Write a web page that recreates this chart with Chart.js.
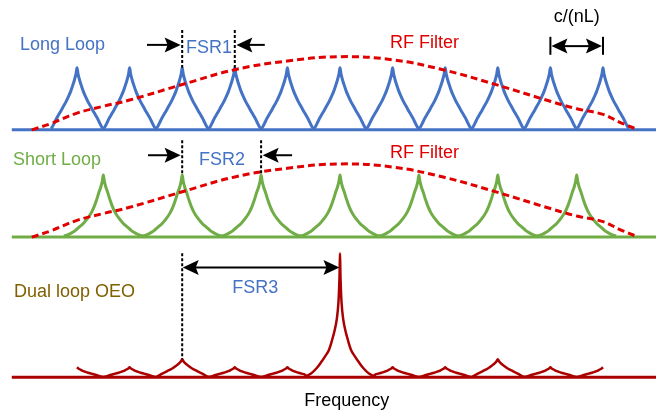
<!DOCTYPE html>
<html>
<head>
<meta charset="utf-8">
<script src="https://cdn.jsdelivr.net/npm/chart.js@4/dist/chart.umd.min.js"></script>
<style>
  body { margin: 0; background: #fff; }
  #wrap { width: 656px; height: 415px; }
</style>
</head>
<body>
<div id="wrap"><canvas id="chart" width="656" height="415"></canvas></div>
<script>
// frequency axis is in units of the long loop FSR, amplitude in units of one long-loop mode
const longPeakPos = [0, 1, 2, 3, 4, 5, 6, 7, 8, 9, 10];
const longPeakAmp = [1, 1, 1, 1, 1, 1, 1, 1, 1, 1, 1];
const shortPeakPos = [0.5, 2, 3.5, 5, 6.5, 8, 9.5];
const shortPeakAmp = [1, 1, 1, 1, 1, 1, 1];
const dualPeakPos = [0, 1, 2, 3, 4, 5, 6, 7, 8, 9, 10];
const dualPeakAmp = [0.16, 0.16, 0.29, 0.16, 0.16, 2.0, 0.16, 0.16, 0.29, 0.16, 0.16];
const dualReachLeft = [0, 0.5, 0.5, 0.5, 0.5, 0.65, 0.35, 0.5, 0.5, 0.5, 0.5];
const dualReachRight = [0.5, 0.5, 0.5, 0.5, 0.35, 0.65, 0.5, 0.5, 0.5, 0.5, 0];

// shape of one mode (half of it)
const longCuspDx = [0, 0.02, 0.05, 0.08, 0.12, 0.16, 0.21, 0.27, 0.33, 0.38, 0.42, 0.455, 0.48, 0.5];
const longCuspLevel = [1, 0.9, 0.8, 0.72, 0.62, 0.54, 0.45, 0.36, 0.27, 0.2, 0.13, 0.07, 0.035, 0.025];
const shortCuspDx = [0, 0.02, 0.05, 0.08, 0.12, 0.17, 0.23, 0.3, 0.38, 0.46, 0.54, 0.62, 0.69, 0.75];
const shortCuspLevel = [1, 0.9, 0.8, 0.73, 0.62, 0.5, 0.39, 0.3, 0.22, 0.16, 0.1, 0.06, 0.03, 0.02];
const mainCuspDx = [0, 0.01, 0.03, 0.06, 0.1, 0.15, 0.21, 0.28, 0.36, 0.45, 0.55, 0.65];
const mainCuspLevel = [1, 0.8, 0.6, 0.47, 0.38, 0.3, 0.22, 0.17, 0.12, 0.07, 0.03, 0.01];

// RF filter response
const filterFreq = [-0.86, -0.5, 0, 0.5, 1, 2, 3, 4, 5, 6, 7, 8, 9, 9.5, 10, 10.3, 10.67];
const filterLevel = [0, 0.1, 0.27, 0.38, 0.48, 0.73, 0.97, 1.11, 1.18, 1.13, 0.96, 0.72, 0.46, 0.34, 0.25, 0.13, 0];

const baselineFreq = [-1.24, 11.1];

const LONG_BASE = 4.6, SHORT_BASE = 2.87, DUAL_BASE = 0.61;

const BLUE = '#4472C4', GREEN = '#70AD47', DARKRED = '#AA0000', RED = '#E00000', OLIVE = '#806000';
const FONT = '18px "Liberation Sans", Arial, sans-serif';

function cuspSeries(pos, amp, dx, lvl, base, reachL, reachR) {
    const pts = [];
    const add = (x, y) => {
        const last = pts[pts.length - 1];
        if (last && Math.abs(last.x - x) < 0.005) return; // shared valley point
        pts.push({ x: x, y: y });
    };
    pos.forEach((p, k) => {
        const d = Array.isArray(dx[0]) ? dx[k] : dx;
        const l = Array.isArray(lvl[0]) ? lvl[k] : lvl;
        const rl = reachL ? reachL[k] : d[d.length - 1];
        const rr = reachR ? reachR[k] : d[d.length - 1];
        for (let i = d.length - 1; i > 0; i--) {
            if (d[i] <= rl + 1e-9) add(p - d[i], base + amp[k] * l[i]);
        }
        pts.push({ x: p, y: base + amp[k] * l[0] });
        for (let i = 1; i < d.length; i++) {
            if (d[i] <= rr + 1e-9) pts.push({ x: p + d[i], y: base + amp[k] * l[i] });
        }
    });
    return pts;
}

const dualDx = dualPeakAmp.map(a => a > 1 ? mainCuspDx : longCuspDx);
const dualLevel = dualPeakAmp.map(a => a > 1 ? mainCuspLevel : longCuspLevel);

const longData = cuspSeries(longPeakPos, longPeakAmp, longCuspDx, longCuspLevel, LONG_BASE);
const shortData = cuspSeries(shortPeakPos, shortPeakAmp, shortCuspDx, shortCuspLevel, SHORT_BASE);
const dualData = cuspSeries(dualPeakPos, dualPeakAmp, dualDx, dualLevel, DUAL_BASE, dualReachLeft, dualReachRight);
const filterAt = base => filterFreq.map((f, i) => ({ x: f, y: base + filterLevel[i] }));
const baselineAt = base => baselineFreq.map(f => ({ x: f, y: base }));

function lineSet(data, color, extra) {
    return Object.assign({
        data: data, borderColor: color, borderWidth: 3, pointRadius: 0,
        fill: false, tension: 0.35, order: 1
    }, extra || {});
}

const annotations = {
    id: 'annotations',
    afterDatasetsDraw(chart) {
        const { ctx, scales } = chart;
        const X = u => scales.x.getPixelForValue(u);
        const Y = v => scales.y.getPixelForValue(v);

        function text(str, u, v, color, align) {
            ctx.save();
            ctx.font = FONT;
            ctx.fillStyle = color;
            ctx.textAlign = align || 'left';
            ctx.textBaseline = 'alphabetic';
            ctx.fillText(str, X(u), Y(v));
            ctx.restore();
        }
        function dashed(u, v0, v1) {
            ctx.save();
            ctx.strokeStyle = '#000';
            ctx.lineWidth = 2;
            ctx.setLineDash([3, 2]);
            ctx.beginPath();
            ctx.moveTo(X(u), Y(v0));
            ctx.lineTo(X(u), Y(v1));
            ctx.stroke();
            ctx.restore();
        }
        function head(px, py, dir) {
            ctx.beginPath();
            ctx.moveTo(px, py);
            ctx.lineTo(px - dir * 16, py - 7.5);
            ctx.lineTo(px - dir * 13, py);
            ctx.lineTo(px - dir * 16, py + 7.5);
            ctx.closePath();
            ctx.fill();
        }
        function arrow(u0, u1, v, both) {
            const x0 = X(u0), x1 = X(u1), py = Y(v);
            const dir = x1 > x0 ? 1 : -1;
            ctx.save();
            ctx.strokeStyle = '#000';
            ctx.fillStyle = '#000';
            ctx.lineWidth = 2;
            ctx.beginPath();
            ctx.moveTo(x0 + (both ? dir * 10 : 0), py);
            ctx.lineTo(x1 - dir * 10, py);
            ctx.stroke();
            head(x1, py, dir);
            if (both) head(x0, py, -dir);
            ctx.restore();
        }
        function bar(u, v0, v1) {
            ctx.save();
            ctx.strokeStyle = '#000';
            ctx.lineWidth = 2;
            ctx.beginPath();
            ctx.moveTo(X(u), Y(v0));
            ctx.lineTo(X(u), Y(v1));
            ctx.stroke();
            ctx.restore();
        }

        // long loop
        text('Long Loop', -1.084, LONG_BASE + 1.29, BLUE);
        dashed(2, LONG_BASE + 1.61, LONG_BASE + 1.0);
        dashed(3, LONG_BASE + 1.61, LONG_BASE + 1.0);
        arrow(1.33, 1.97, LONG_BASE + 1.37);
        arrow(3.57, 3.03, LONG_BASE + 1.37);
        text('FSR1', 2.07, LONG_BASE + 1.24, BLUE);
        text('RF Filter', 5.95, LONG_BASE + 1.32, RED);
        text('c/(nL)', 9.5, LONG_BASE + 1.74, '#000', 'center');
        bar(9, LONG_BASE + 1.21, LONG_BASE + 1.5);
        bar(10, LONG_BASE + 1.21, LONG_BASE + 1.5);
        arrow(9.02, 9.98, LONG_BASE + 1.35, true);

        // short loop
        text('Short Loop', -1.217, SHORT_BASE + 1.16, GREEN);
        dashed(2, SHORT_BASE + 1.56, SHORT_BASE + 1.0);
        dashed(3.5, SHORT_BASE + 1.56, SHORT_BASE + 1.0);
        arrow(1.35, 1.97, SHORT_BASE + 1.32);
        arrow(4.09, 3.53, SHORT_BASE + 1.32);
        text('FSR2', 2.32, SHORT_BASE + 1.16, BLUE);
        text('RF Filter', 5.95, SHORT_BASE + 1.27, RED);

        // dual loop
        text('Dual loop OEO', -1.2, DUAL_BASE + 1.29, OLIVE);
        dashed(2, DUAL_BASE + 2.0, DUAL_BASE + 0.29);
        arrow(2.01, 4.99, DUAL_BASE + 1.77, true);
        text('FSR3', 2.95, DUAL_BASE + 1.35, BLUE);
        text('Frequency', 5.13, DUAL_BASE - 0.47, '#000', 'center');
    }
};

new Chart(document.getElementById('chart'), {
    type: 'line',
    data: {
        datasets: [
            lineSet(filterAt(LONG_BASE), RED, { borderDash: [7, 4], tension: 0.4, order: 0 }),
            lineSet(filterAt(SHORT_BASE), RED, { borderDash: [7, 4], tension: 0.4, order: 0 }),
            lineSet(longData, BLUE),
            lineSet(shortData, GREEN),
            lineSet(dualData, DARKRED, { borderWidth: 2.5 }),
            lineSet(baselineAt(LONG_BASE), BLUE, { tension: 0, order: 2 }),
            lineSet(baselineAt(SHORT_BASE), GREEN, { tension: 0, order: 2 }),
            lineSet(baselineAt(DUAL_BASE), DARKRED, { tension: 0, order: 2 })
        ]
    },
    options: {
        responsive: false,
        animation: false,
        devicePixelRatio: 1,
        layout: { padding: 0 },
        scales: {
            x: { type: 'linear', min: -1.464, max: 11.008, display: false },
            y: { type: 'linear', min: 0, max: 6.694, display: false }
        },
        plugins: { legend: { display: false }, tooltip: { enabled: false } }
    },
    plugins: [annotations]
});
</script>
</body>
</html>
